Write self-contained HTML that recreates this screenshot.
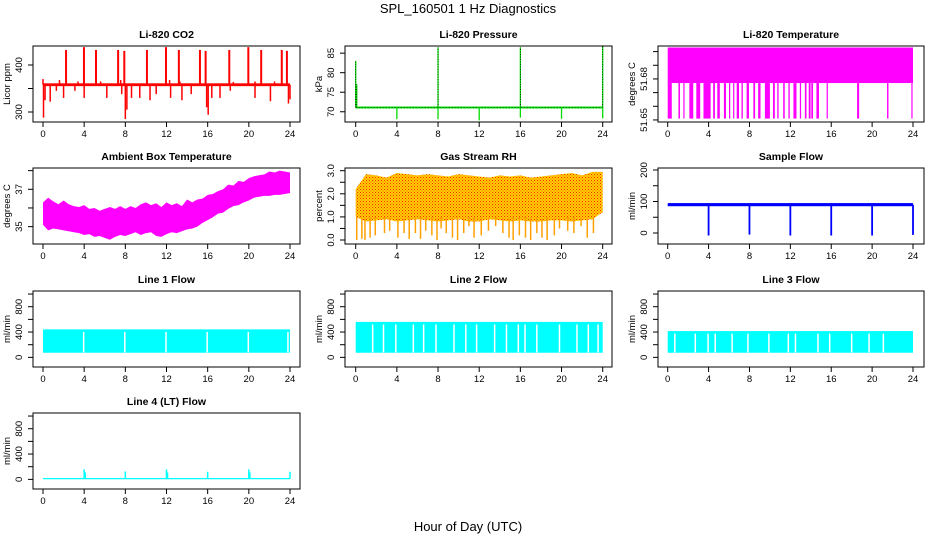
<!DOCTYPE html>
<html><head><meta charset="utf-8"><style>
body{margin:0;background:#fff;}
svg{display:block;font-family:"Liberation Sans",sans-serif;}
</style></head><body>
<svg id="c" width="936" height="540" viewBox="0 0 936 540">
<defs>
<pattern id="rhpat" width="3" height="3" patternUnits="userSpaceOnUse">
<rect width="3" height="3" fill="#ffd200"/><rect x="0" y="0" width="1" height="1" fill="#ff2000"/><rect x="1.5" y="1.5" width="1" height="1" fill="#ff4000"/>
</pattern>
</defs>
<text x="468" y="13" text-anchor="middle" font-size="13">SPL_160501  1 Hz Diagnostics</text>
<text x="468" y="531" text-anchor="middle" font-size="13">Hour of Day (UTC)</text>
</svg>
<script>
// ---- data arrays ----
const xTicks = [0,4,8,12,16,20,24];
// CO2
const co2Base = 358;
const co2SpikeHours = [2.24,3.98,5.15,7.3,7.9,10.1,11.95,13.2,15.25,15.8,18.1,19.95,21.2,23.2,23.7];
const co2SpikeVals  = [432,438,432,432,430,432,438,432,432,430,432,438,432,432,430];
const co2SmallUpHours = [1.6,3.4,5.6,7.55,12.3,13.3,18.5,20.6,22.5];
const co2SmallUpVals  = [368,365,365,368,368,365,364,365,365];
const co2DipHours = [0.05,0.2,0.7,1.3,2.0,3.1,4.0,6.2,7.65,8.0,8.15,8.6,9.4,10.4,11.0,12.4,13.5,14.4,15.9,16.05,16.4,17.2,18.2,20.6,22.1,23.85,24.0];
const co2DipVals  = [288,325,322,345,330,345,330,330,338,285,305,330,330,325,338,330,325,338,310,294,330,330,345,330,323,318,327];
// Pressure
const presBase = 71.1;
const presUpHours = [0,0.1,8,16,24];
const presUpVals  = [83,77,86.5,86.5,86.8];
const presDownHours = [4,8,12,16,20,24];
const presDownVals  = [68.1,68.1,67.8,68.5,68.2,68.3];
// Li-820 temperature
const tempTop = 51.703;
const tempBandLow = 51.677;
const tempDipLow = 51.651;
const tempDipStart = [0,1.05,1.53,2.12,2.8,3.5,4.45,4.85,5.5,6.0,6.4,6.75,7.22,7.72,8.38,8.85,9.51,10.3,10.72,11.3,11.81,12.3,12.93,13.42,13.8,14.05,14.55,15.55,18.53,21.46,23.84];
const tempDipEnd   = [0.4,1.2,1.62,2.5,3.18,4.2,4.62,5.1,5.7,6.1,6.5,6.98,7.35,7.95,8.55,9.08,10.0,10.48,10.85,11.45,11.94,12.6,13.05,13.58,13.98,14.22,14.8,15.65,18.73,21.6,23.92];
// Ambient box temperature envelope (half-hourly)
const ambHours = [0,0.5,1,1.5,2,2.5,3,3.5,4,4.5,5,5.5,6,6.5,7,7.5,8,8.5,9,9.5,10,10.5,11,11.5,12,12.5,13,13.5,14,14.5,15,15.5,16,16.5,17,17.5,18,18.5,19,19.5,20,20.5,21,21.5,22,22.5,23,23.5,24];
const ambUpper = [36.3,36.55,36.35,36.2,36.4,36.2,36.1,36.05,36.15,35.95,36.0,35.85,35.95,36.05,35.95,36.1,35.95,36.1,36.0,36.2,36.3,36.15,36.25,36.05,36.3,36.15,36.25,36.1,36.45,36.3,36.45,36.5,36.7,36.75,36.9,37.0,37.25,37.2,37.45,37.4,37.6,37.7,37.75,37.8,37.95,37.9,38.0,37.95,37.9];
const ambLower = [35.1,34.8,34.9,34.85,34.8,34.75,34.7,34.65,34.55,34.6,34.45,34.5,34.4,34.3,34.45,34.55,34.5,34.6,34.7,34.55,34.65,34.7,34.5,34.45,34.6,34.7,34.65,34.75,34.85,34.9,35.0,35.2,35.35,35.5,35.7,35.75,35.95,36.1,36.15,36.3,36.4,36.55,36.6,36.65,36.65,36.7,36.7,36.75,36.8];
// Gas stream RH
const rhHours = [0,1,2,3,4,5,6,7,8,9,10,11,12,13,14,15,16,17,18,19,20,21,22,23,24];
const rhUpper = [2.2,2.85,2.8,2.7,2.9,2.85,2.8,2.85,2.8,2.75,2.85,2.8,2.75,2.7,2.8,2.75,2.8,2.7,2.75,2.8,2.85,2.9,2.8,2.95,2.95];
const rhLower = [1.0,0.8,0.85,0.9,0.8,0.85,0.9,0.85,0.8,0.85,0.9,0.8,0.8,0.9,0.85,0.8,0.85,0.8,0.8,0.85,0.85,0.8,0.85,0.9,1.2];
const rhDipHours = [0.1,0.6,0.9,1.4,1.9,2.8,3.3,4.1,4.7,5.2,5.8,6.3,6.8,7.4,7.9,8.3,8.8,9.4,9.9,10.5,11.0,11.5,12.2,12.9,13.6,14.3,14.9,15.3,15.9,16.5,17.0,17.6,18.1,18.6,19.3,19.8,20.6,21.2,21.9,22.5,23.1];
const rhDipVals  = [0.0,0.05,0.0,0.1,0.2,0.3,0.4,0.1,0.3,0.05,0.3,0.05,0.4,0.2,0.0,0.5,0.3,0.1,0.0,0.3,0.6,0.1,0.2,0.4,0.6,0.3,0.1,0.0,0.2,0.1,0.0,0.3,0.1,0.0,0.2,0.5,0.4,0.3,0.6,0.1,0.3];
// Sample flow
const sfBase = 90;
const sfDipHours = [4,8,12,16,20,24];
const sfDipVals  = [-8,-5,-8,-8,-8,-6];
// Line flows
const l1Top = 442, l1Bottom = 73;
const l1GapHours = [3.95,7.95,11.95,15.95,19.95,23.8];
const l2Top = 560, l2Bottom = 73;
const l2GapHours = [1.65,2.7,3.9,5.6,6.6,7.8,9.55,10.7,11.75,13.5,14.65,15.8,16.45,17.6,19.8,21.5,22.6,23.55];
const l3Top = 415, l3Bottom = 73;
const l3GapHours = [0.7,2.7,3.95,4.65,6.3,7.85,9.9,11.8,12.5,14.7,15.85,18.0,19.7,21.1];
const l4Base = 12;
const l4SpikeHours = [4,4.1,8,12,12.1,16,20,20.1,24];
const l4SpikeVals  = [158,110,125,158,110,120,158,110,120];

// ---- layout ----
const svg = document.getElementById('c');
const NS = 'http://www.w3.org/2000/svg';
const colL = [33,345,658], colR = [300,612,924], colX0 = [43,355.7,667.7], colX24 = [290,602.7,913];
const rowT = [46,168,291,413], rowB = [122,244,367,489];
function mk(tag, attrs, parent){const e=document.createElementNS(NS,tag);for(const k in attrs)e.setAttribute(k,attrs[k]);(parent||svg).appendChild(e);return e;}

function panel(name, title, col, row, ymin, ymax, yticks, ylabels, ytitle){
  const g = mk('g',{});
  
  
  const L=colL[col],R=colR[col],T=rowT[row],B=rowB[row];
  const xs = h => colX0[col] + (colX24[col]-colX0[col])*h/24;
  const ys = v => B - (v-ymin)/(ymax-ymin)*(B-T);
  const t = mk('text',{x:(L+R)/2,y:T-8,'text-anchor':'middle','font-size':'10.5','font-weight':'bold'},g);
  t.textContent = title;
  
  
  const plot = mk('g',{},g);
  
  
  const box = mk('rect',{x:L,y:T,width:R-L,height:B-T,fill:'none',stroke:'#000','stroke-width':1},g);
  
  
  const xa = mk('g',{},g);
  
  
  xTicks.forEach(h=>{
    mk('line',{x1:xs(h),x2:xs(h),y1:B,y2:B+5,stroke:'#000'},xa);
    const tl = mk('text',{x:xs(h),y:B+15,'text-anchor':'middle','font-size':'9.5'},xa);
    tl.textContent = h;
  });
  const ya = mk('g',{},g);
  
  
  yticks.forEach(v=>{
    mk('line',{x1:L,x2:L-5,y1:ys(v),y2:ys(v),stroke:'#000'},ya);
  });
  ylabels.forEach(v=>{
    const y=ys(v), x=L-11;
    const tl = mk('text',{x:x,y:y,'text-anchor':'middle','font-size':'9.5',transform:`rotate(-90 ${x} ${y})`},ya);
    tl.textContent = v;
  });
  const tx=L-23, ty=(T+B)/2;
  const yt = mk('text',{x:tx,y:ty,'text-anchor':'middle','font-size':'9.5',transform:`rotate(-90 ${tx} ${ty})`},g);
  yt.textContent = ytitle;
  
  
  g.appendChild(box);
  return {plot,xs,ys};
}
function vline(p,h,v1,v2,col,w){return mk('line',{x1:p.xs(h),x2:p.xs(h),y1:p.ys(v1),y2:p.ys(v2),stroke:col,'stroke-width':w||1.3},p.plot);}

// CO2
let p = panel('co2','Li-820 CO2',0,0,278.7,440.4,[300,350,400],['300','400'],'Licor ppm');
mk('rect',{x:p.xs(0),y:p.ys(co2Base+3),width:p.xs(24)-p.xs(0),height:p.ys(co2Base-3)-p.ys(co2Base+3),fill:'#ff0000'},p.plot);
co2SpikeHours.forEach((h,i)=>{vline(p,h,co2Base,co2SpikeVals[i],'#ff0000',2);});
co2SmallUpHours.forEach((h,i)=>{vline(p,h,co2Base,co2SmallUpVals[i],'#ff0000',1.5);});
co2DipHours.forEach((h,i)=>{vline(p,h,co2Base,co2DipVals[i],'#ff0000',1.5);});
vline(p,0,co2Base,370,'#ff0000',1.5);

// Pressure
p = panel('pressure','Li-820 Pressure',1,0,67.38,86.83,[70,75,80,85],['70','75','80','85'],'kPa');
mk('line',{x1:p.xs(0),x2:p.xs(24),y1:p.ys(presBase),y2:p.ys(presBase),stroke:'#00dd00','stroke-width':2},p.plot);
mk('line',{x1:p.xs(0),x2:p.xs(24),y1:p.ys(presBase),y2:p.ys(presBase),stroke:'#000','stroke-width':0.6,'stroke-dasharray':'1 2'},p.plot);
presUpHours.forEach((h,i)=>{vline(p,h,presBase,presUpVals[i],'#00dd00',1.3);mk('line',{x1:p.xs(h),x2:p.xs(h),y1:p.ys(presBase),y2:p.ys(presUpVals[i]),stroke:'#000','stroke-width':0.7,'stroke-dasharray':'1 1.5'},p.plot);});
presDownHours.forEach((h,i)=>{vline(p,h,presBase,presDownVals[i],'#00dd00',1.3);});

// Li-820 Temperature
p = panel('li820-temp','Li-820 Temperature',2,0,51.6485,51.7041,[51.65,51.66,51.67,51.68,51.69,51.70],['51.65','51.68'],'degrees C');
mk('rect',{x:p.xs(0),y:p.ys(tempTop),width:p.xs(24)-p.xs(0),height:p.ys(tempBandLow)-p.ys(tempTop),fill:'#ff00ff'},p.plot);
tempDipStart.forEach((s,i)=>{
  const w=Math.max(1.2,p.xs(tempDipEnd[i])-p.xs(s));
  mk('rect',{x:p.xs(s),y:p.ys(tempBandLow),width:w,height:p.ys(tempDipLow)-p.ys(tempBandLow),fill:'#ff00ff'},p.plot);
});

// Ambient
p = panel('ambient-temp','Ambient Box Temperature',0,1,34.07,38.14,[35,36,37,38],['35','37'],'degrees C');
{let d='';ambHours.forEach((h,i)=>{d+=(i?'L':'M')+p.xs(h)+' '+p.ys(ambUpper[i]);});
for(let i=ambHours.length-1;i>=0;i--)d+='L'+p.xs(ambHours[i])+' '+p.ys(ambLower[i]);
mk('path',{d:d+'Z',fill:'#ff00ff'},p.plot);}

// RH
p = panel('rh','Gas Stream RH',1,1,-0.173,3.117,[0,0.5,1,1.5,2,2.5,3],['0.0','1.0','2.0','3.0'],'percent');
{let d='';rhHours.forEach((h,i)=>{d+=(i?'L':'M')+p.xs(h)+' '+p.ys(rhUpper[i]);});
for(let i=rhHours.length-1;i>=0;i--)d+='L'+p.xs(rhHours[i])+' '+p.ys(rhLower[i]);
mk('path',{d:d+'Z',fill:'url(#rhpat)'},p.plot);}
rhDipHours.forEach((h,i)=>{vline(p,h,1.0,rhDipVals[i],'#ffa000',1.5);});

// Sample flow
p = panel('sample-flow','Sample Flow',2,1,-34.9,206.3,[0,50,100,150,200],['0','100','200'],'ml/min');
mk('rect',{x:p.xs(0),y:p.ys(sfBase+5),width:p.xs(24)-p.xs(0),height:p.ys(sfBase-5)-p.ys(sfBase+5),fill:'#0000ff'},p.plot);
sfDipHours.forEach((h,i)=>{vline(p,h,sfBase,sfDipVals[i],'#0000ff',1.8);});

// Line flows
const lt=[0,200,400,600,800,1000], ll=['0','400','800'];
function lineFlow(name,title,col,row,top,bot,gaps){
  const q = panel(name,title,col,row,-152,1048,lt,ll,'ml/min');
  mk('rect',{x:q.xs(0),y:q.ys(top),width:q.xs(24)-q.xs(0),height:q.ys(bot)-q.ys(top),fill:'#00ffff'},q.plot);
  gaps.forEach(h=>{vline(q,h,top-40,bot+5,'#ffffff',1.5);});
  return q;
}
lineFlow('line1-flow','Line 1 Flow',0,2,l1Top,l1Bottom,l1GapHours);
lineFlow('line2-flow','Line 2 Flow',1,2,l2Top,l2Bottom,l2GapHours);
lineFlow('line3-flow','Line 3 Flow',2,2,l3Top,l3Bottom,l3GapHours);
p = panel('line4-flow','Line 4 (LT) Flow',0,3,-152,1048,lt,ll,'ml/min');
mk('rect',{x:p.xs(0),y:p.ys(l4Base+10),width:p.xs(24)-p.xs(0),height:p.ys(l4Base-10)-p.ys(l4Base+10),fill:'#00ffff'},p.plot);
l4SpikeHours.forEach((h,i)=>{vline(p,h,l4Base,l4SpikeVals[i],'#00ffff',1.5);});
</script>
</body></html>
